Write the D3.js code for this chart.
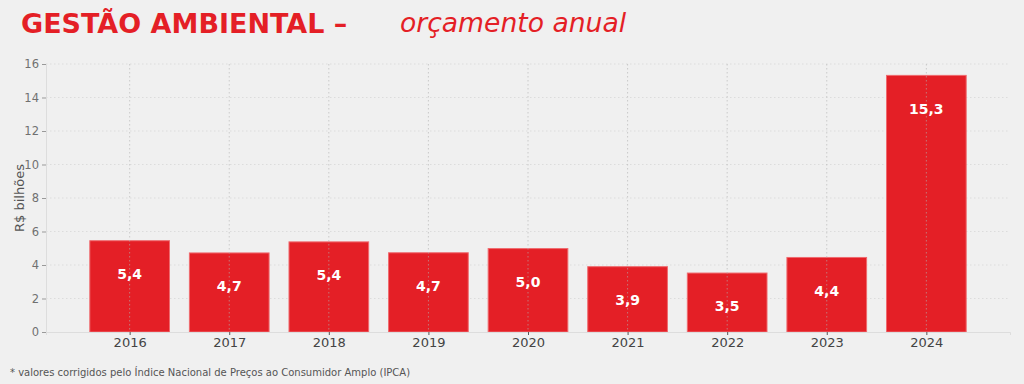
<!DOCTYPE html>
<html lang="pt">
<head>
<meta charset="UTF-8">
<title>Gestão Ambiental – orçamento anual</title>
<script src="https://d3js.org/d3.v7.min.js"></script>
<style>
  body { margin: 0; background: #f0f0f0; }
  svg { display: block; font-family: "DejaVu Sans", sans-serif; }
</style>
</head>
<body>
<div id="chart"></div>
<script>
const years = ['2016', '2017', '2018', '2019', '2020', '2021', '2022', '2023', '2024'];
const values = [5.45, 4.72, 5.38, 4.73, 4.98, 3.9, 3.52, 4.45, 15.32];
const valueLabels = ['5,4', '4,7', '5,4', '4,7', '5,0', '3,9', '3,5', '4,4', '15,3'];
const yTicks = [0, 2, 4, 6, 8, 10, 12, 14, 16];

const W = 1024, H = 384;
const plotLeft = 46, plotRight = 1010, plotTop = 64, plotBottom = 332;

const svg = d3.select('#chart').append('svg')
    .attr('width', W).attr('height', H);

svg.append('rect').attr('width', W).attr('height', H).attr('fill', '#f0f0f0');

const x = d3.scaleLinear().domain([-0.84, years.length - 1 + 0.84]).range([plotLeft, plotRight]);
const y = d3.scaleLinear().domain([0, 16]).range([plotBottom, plotTop]);
const barW = (x(1) - x(0)) * 0.8;

// horizontal grid
svg.append('g')
    .selectAll('line')
    .data(yTicks.slice(1))
    .join('line')
    .attr('x1', plotLeft).attr('x2', plotRight)
    .attr('y1', d => y(d)).attr('y2', d => y(d))
    .attr('stroke', '#dcdcdc')
    .attr('stroke-dasharray', '1.5,2.5');

// bars
svg.append('g')
    .selectAll('rect')
    .data(values)
    .join('rect')
    .attr('x', (d, i) => x(i) - barW / 2)
    .attr('y', d => y(d))
    .attr('width', barW)
    .attr('height', d => y(0) - y(d))
    .attr('fill', '#e41f26')
    .attr('stroke', '#ef6a6e')
    .attr('stroke-width', 1);

// vertical grid (on top of bars)
svg.append('g')
    .selectAll('line')
    .data(years)
    .join('line')
    .attr('x1', (d, i) => x(i)).attr('x2', (d, i) => x(i))
    .attr('y1', plotTop).attr('y2', plotBottom)
    .attr('stroke', '#b0b0b0')
    .attr('stroke-opacity', 0.6)
    .attr('stroke-dasharray', '1.5,2.5');

// axes
const yAxis = svg.append('g')
    .attr('transform', `translate(${plotLeft},0)`)
    .call(d3.axisLeft(y).tickValues(yTicks).tickSize(4).tickPadding(3));
yAxis.select('.domain').attr('stroke', '#dddddd');
yAxis.selectAll('.tick line').attr('stroke', '#999');
yAxis.selectAll('text').attr('fill', '#707070').attr('font-size', 11.5)
    .attr('font-family', '"DejaVu Sans", sans-serif');

const xAxis = svg.append('g')
    .attr('transform', `translate(0,${plotBottom})`)
    .call(d3.axisBottom(x).tickValues(d3.range(years.length)).tickFormat(i => years[i]).tickSize(3).tickPadding(3));
xAxis.select('.domain').attr('stroke', '#dddddd');
xAxis.selectAll('.tick line').attr('stroke', '#555');
xAxis.selectAll('text').attr('fill', '#444').attr('font-size', 13)
    .attr('font-family', '"DejaVu Sans", sans-serif');

// value labels
svg.append('g')
    .selectAll('text')
    .data(values)
    .join('text')
    .attr('x', (d, i) => x(i))
    .attr('y', d => y(d - 2))
    .attr('dy', '0.35em')
    .attr('text-anchor', 'middle')
    .attr('fill', 'white')
    .attr('font-weight', 'bold')
    .attr('font-size', 14)
    .text((d, i) => valueLabels[i]);

// y label
svg.append('text')
    .attr('transform', `translate(24,${(plotTop + plotBottom) / 2}) rotate(-90)`)
    .attr('text-anchor', 'middle')
    .attr('fill', '#555')
    .attr('font-size', 13)
    .text('R$ bilhões');

// title
svg.append('text')
    .attr('x', 21).attr('y', 33)
    .attr('fill', '#e41f26')
    .attr('font-weight', 'bold')
    .attr('font-size', 27)
    .text('GESTÃO AMBIENTAL –');
svg.append('text')
    .attr('x', 400).attr('y', 32)
    .attr('fill', '#e41f26')
    .attr('font-style', 'italic')
    .attr('font-size', 26.6)
    .text('orçamento anual');

// footnote
svg.append('text')
    .attr('x', 10).attr('y', 376)
    .attr('fill', '#555')
    .attr('font-size', 10)
    .text('* valores corrigidos pelo Índice Nacional de Preços ao Consumidor Amplo (IPCA)');
</script>
</body>
</html>
